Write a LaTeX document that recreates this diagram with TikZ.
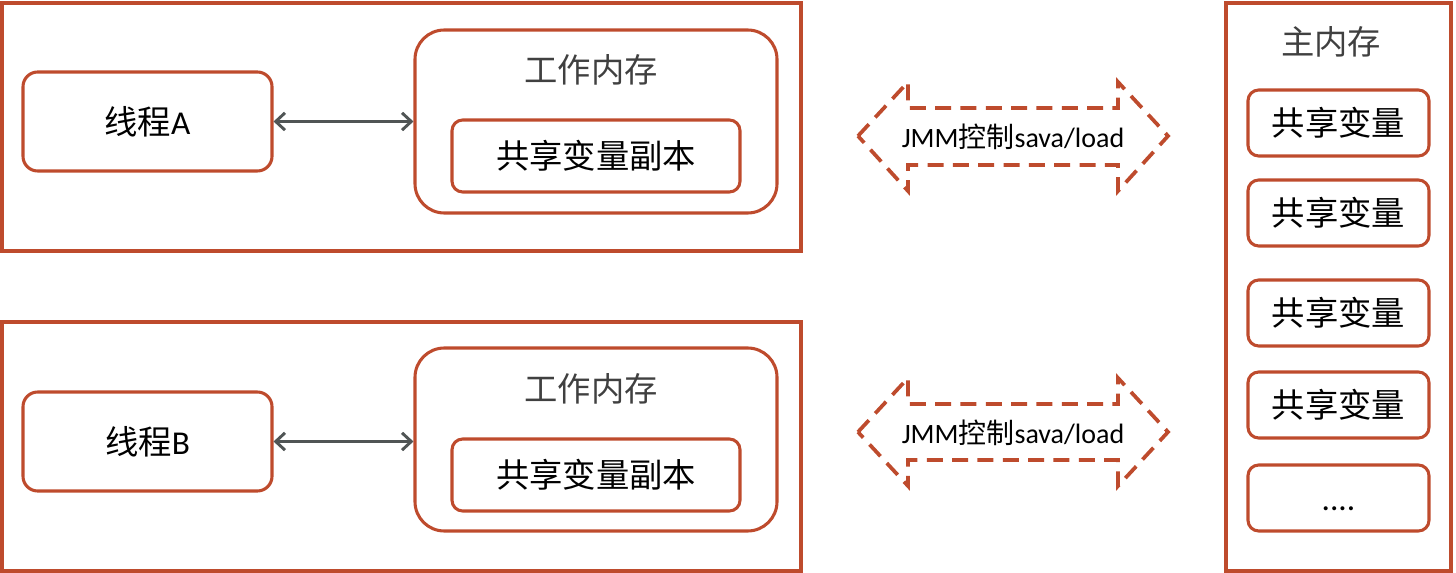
\documentclass[tikz,border=0pt]{standalone}
\usepackage{fontspec}
\setmainfont{Carlito}
\newfontfamily\cjk{Noto Sans CJK SC}
\usetikzlibrary{arrows.meta}
\definecolor{acc}{RGB}{190,75,45}
\definecolor{txtgray}{RGB}{64,64,64}
\definecolor{arrgray}{RGB}{80,85,85}
\begin{document}
\begin{tikzpicture}[x=0.75pt,y=-0.75pt,
  outerbox/.style={draw=acc,line width=2.3pt,inner sep=0pt},
  rbox/.style={draw=acc,line width=2.3pt,rounded corners=11pt,inner sep=0pt,align=center,font=\fontsize{25}{30}\selectfont},
  smallbox/.style={draw=acc,line width=2.3pt,rounded corners=8pt,inner sep=0pt,align=center,font=\fontsize{25}{30}\selectfont},
  title/.style={text=txtgray,font=\fontsize{25}{30}\selectfont\cjk,inner sep=0pt},
  conn/.style={draw=arrgray,line width=2.2pt,{Straight Barb[length=7pt,width=13pt]}-{Straight Barb[length=7pt,width=13pt]}},
  dashedarrow/.style={draw=acc,line width=2.8pt,dash pattern=on 12pt off 7pt,line join=miter},
  jmm/.style={font=\fontsize{21}{25}\selectfont,inner sep=0pt}
]
\useasboundingbox (0,0) rectangle (1456,573);
% thread A group
\node[outerbox,minimum width=599.25pt,minimum height=186pt] (oa) at (401.5,127) {};
\node[rbox,minimum width=186.75pt,minimum height=74.25pt] (ta) at (147.5,121.5) {{\cjk 线程}A};
\node[rbox,rounded corners=22pt,minimum width=271.5pt,minimum height=137.25pt] (wa) at (596,121.5) {};
\node[title] (wat) at (591,70) {工作内存};
\node[smallbox,minimum width=216pt,minimum height=54pt] (sa) at (596,156) {\cjk 共享变量副本};
\draw[conn] (ta.east) -- (ta.east -| wa.west);
% thread B group
\node[outerbox,minimum width=599.25pt,minimum height=186.75pt] (ob) at (401.5,446.5) {};
\node[rbox,minimum width=186.75pt,minimum height=74.25pt] (tb) at (147.5,441.5) {{\cjk 线程}B};
\node[rbox,rounded corners=22pt,minimum width=271.5pt,minimum height=137.25pt] (wb) at (596,439.5) {};
\node[title] (wbt) at (591,389) {工作内存};
\node[smallbox,minimum width=216pt,minimum height=54pt] (sb) at (596,475) {\cjk 共享变量副本};
\draw[conn] (tb.east) -- (tb.east -| wb.west);
% JMM arrows
\draw[dashedarrow] (858,136) -- (908,82) -- (908,108) -- (1118,108) -- (1118,82) -- (1168,136) -- (1118,191) -- (1118,165) -- (908,165) -- (908,191) -- cycle;
\node[jmm] (ja) at (1013,137) {JMM{\cjk 控制}sava/load};
\draw[dashedarrow] (858,432) -- (908,378) -- (908,404) -- (1118,404) -- (1118,378) -- (1168,432) -- (1118,486) -- (1118,460) -- (908,460) -- (908,486) -- cycle;
\node[jmm] (jb) at (1013,433) {JMM{\cjk 控制}sava/load};
% main memory
\node[outerbox,minimum width=168.75pt,minimum height=426pt] (mm) at (1338.5,287) {};
\node[title] (mmt) at (1331,42) {主内存};
\foreach \y/\n in {123/v1,213/v2,313/v3,405/v4}{
  \node[smallbox,minimum width=135.75pt,minimum height=49.5pt] (\n) at (1338.5,\y) {\cjk 共享变量};
}
\node[smallbox,minimum width=135.75pt,minimum height=49.5pt] (v5) at (1338.5,498) {\vphantom{\cjk 共}....};
\end{tikzpicture}
\end{document}
